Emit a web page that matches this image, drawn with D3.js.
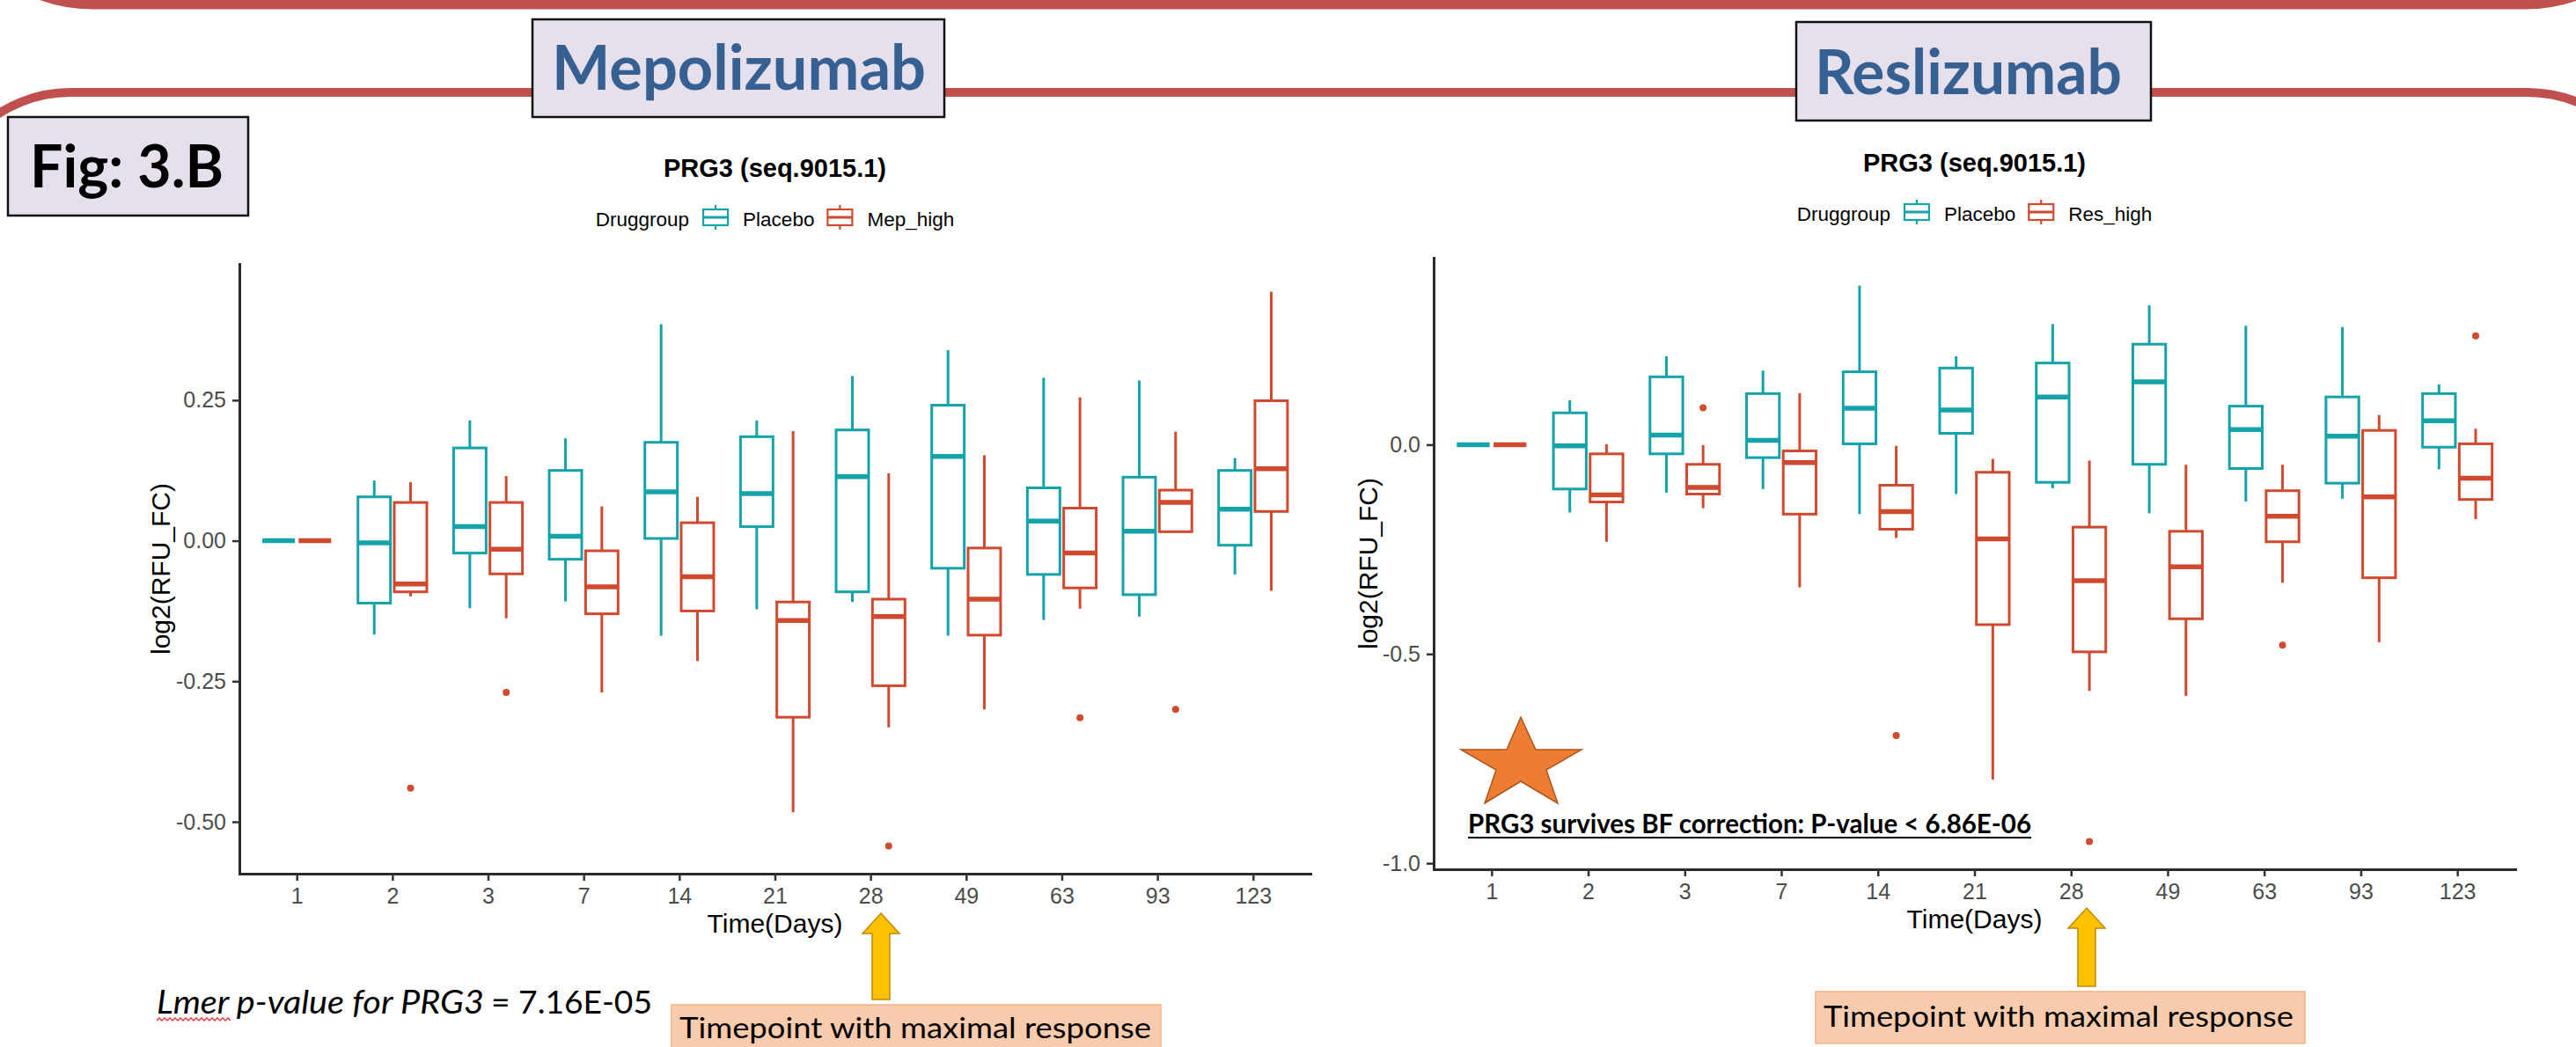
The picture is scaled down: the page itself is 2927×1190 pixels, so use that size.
<!DOCTYPE html>
<html>
<head>
<meta charset="utf-8">
<script src="https://cdn.jsdelivr.net/npm/d3@7"></script>
<style>
  body { margin: 0; background: #fff; }
  svg { display: block; }
</style>
</head>
<body>
<script>
// time points (x categories)
var days = ["1", "2", "3", "7", "14", "21", "28", "49", "63", "93", "123"];

// box stats per day: [lower whisker, Q1, median, Q3, upper whisker]
var mepPlacebo = [
  [0, 0, 0, 0, 0],
  [-0.167, -0.111, -0.004, 0.078, 0.107],
  [-0.120, -0.022, 0.025, 0.165, 0.214],
  [-0.108, -0.033, 0.008, 0.125, 0.182],
  [-0.169, 0.004, 0.087, 0.175, 0.385],
  [-0.122, 0.025, 0.084, 0.185, 0.214],
  [-0.109, -0.091, 0.114, 0.197, 0.293],
  [-0.169, -0.049, 0.150, 0.241, 0.339],
  [-0.141, -0.060, 0.035, 0.094, 0.290],
  [-0.135, -0.096, 0.017, 0.113, 0.285],
  [-0.060, -0.008, 0.056, 0.125, 0.147]
];
var mepHigh = [
  [0, 0, 0, 0, 0],
  [-0.099, -0.091, -0.077, 0.068, 0.104],
  [-0.138, -0.059, -0.015, 0.068, 0.115],
  [-0.270, -0.130, -0.082, -0.018, 0.061],
  [-0.214, -0.125, -0.064, 0.032, 0.078],
  [-0.483, -0.314, -0.142, -0.109, 0.195],
  [-0.332, -0.258, -0.135, -0.104, 0.120],
  [-0.300, -0.168, -0.104, -0.013, 0.152],
  [-0.121, -0.084, -0.022, 0.058, 0.255],
  [0.016, 0.016, 0.068, 0.090, 0.194],
  [-0.089, 0.052, 0.128, 0.249, 0.443]
];
var mepHighOutliers = [["2", -0.440], ["3", -0.270], ["28", -0.543], ["63", -0.315], ["93", -0.300]];

var resPlacebo = [
  [0, 0, 0, 0, 0],
  [-0.162, -0.106, -0.003, 0.076, 0.106],
  [-0.115, -0.022, 0.023, 0.162, 0.211],
  [-0.106, -0.031, 0.010, 0.122, 0.177],
  [-0.166, 0.002, 0.087, 0.174, 0.380],
  [-0.118, 0.027, 0.083, 0.183, 0.211],
  [-0.104, -0.090, 0.114, 0.195, 0.288],
  [-0.164, -0.047, 0.150, 0.240, 0.333],
  [-0.136, -0.057, 0.036, 0.092, 0.284],
  [-0.129, -0.092, 0.020, 0.114, 0.281],
  [-0.059, -0.006, 0.057, 0.122, 0.144]
];
var resHigh = [
  [0, 0, 0, 0, 0],
  [-0.232, -0.137, -0.120, -0.022, 0.001],
  [-0.152, -0.118, -0.102, -0.047, -0.001],
  [-0.341, -0.166, -0.043, -0.015, 0.123],
  [-0.223, -0.202, -0.160, -0.097, -0.003],
  [-0.800, -0.430, -0.225, -0.066, -0.034],
  [-0.588, -0.495, -0.325, -0.197, -0.038],
  [-0.600, -0.416, -0.292, -0.207, -0.048],
  [-0.330, -0.232, -0.171, -0.110, -0.048],
  [-0.472, -0.318, -0.125, 0.034, 0.071],
  [-0.178, -0.131, -0.080, 0.002, 0.038]
];
var resHighOutliers = [["3", 0.088], ["14", -0.695], ["28", -0.948], ["63", -0.479], ["123", 0.260]];

// y tick values and their labels
var mepYTicks = [-0.5, -0.25, 0, 0.25];
var mepYLabels = ["-0.50", "-0.25", "0.00", "0.25"];
var resYTicks = [-1, -0.5, 0];
var resYLabels = ["-1.0", "-0.5", "0.0"];

var teal = "#13A3A8",
    red = "#CF4A2F",
    gg = "'Liberation Sans', Arial, sans-serif",
    office = "Lato, 'Open Sans', sans-serif";

var svg = d3.select("body").append("svg")
    .attr("width", 2927)
    .attr("height", 1190);

// ---- slide decoration: red rounded frames
svg.append("rect")
    .attr("x", -65).attr("y", -400).attr("width", 3105).attr("height", 405)
    .attr("rx", 170).attr("ry", 170)
    .style("fill", "none").style("stroke", "#C0504D").style("stroke-width", 11);
svg.append("rect")
    .attr("x", -70).attr("y", 105).attr("width", 3092).attr("height", 1400)
    .attr("rx", 150).attr("ry", 150)
    .style("fill", "none").style("stroke", "#C0504D").style("stroke-width", 10);

// label boxes
function labelBox(x, y, w, h, text, tx, ty, tw, size, color) {
  svg.append("rect")
      .attr("x", x).attr("y", y).attr("width", w).attr("height", h)
      .style("fill", "#E6E0EC").style("stroke", "#111").style("stroke-width", 2.5);
  svg.append("text")
      .attr("x", tx).attr("y", ty)
      .attr("textLength", tw).attr("lengthAdjust", "spacingAndGlyphs")
      .style("font-family", office).style("font-weight", "bold")
      .style("font-size", size + "px").style("fill", color)
      .text(text);
}
labelBox(605, 22, 468, 111, "Mepolizumab", 627, 102, 425, 70, "#376092");
labelBox(2041, 25, 403, 112, "Reslizumab", 2062, 107, 349, 70, "#376092");
labelBox(9, 133, 273, 112, "Fig: 3.B", 34, 213, 220, 67, "#000");

// ---- one ggplot-like boxplot panel
function drawPanel(p) {
  var x = d3.scalePoint().domain(days).range([p.left, p.right]).padding(0.6);
  var step = x.step();

  var all = [];
  p.groups.forEach(function(g) {
    g.stats.forEach(function(s) { all = all.concat(s); });
    g.outliers.forEach(function(o) { all.push(o[1]); });
  });
  var lo = d3.min(all), hi = d3.max(all), pad = (hi - lo) * 0.05;
  var y = d3.scaleLinear().domain([lo - pad, hi + pad]).range([p.bottom, p.top]);

  var panel = svg.append("g");

  p.groups.forEach(function(g, gi) {
    var off = (gi === 0 ? -1 : 1) * 0.19 * step,
        w = 0.34 * step;

    var boxes = panel.selectAll(null)
        .data(g.stats)
      .enter().append("g")
        .attr("transform", function(d, i) { return "translate(" + (x(days[i]) + off) + ",0)"; })
        .style("stroke", g.color)
        .style("fill", "none");

    // whiskers
    boxes.append("line")
        .attr("y1", function(d) { return y(d[3]); })
        .attr("y2", function(d) { return y(d[4]); })
        .style("stroke-width", 3);
    boxes.append("line")
        .attr("y1", function(d) { return y(d[0]); })
        .attr("y2", function(d) { return y(d[1]); })
        .style("stroke-width", 3);
    // box
    boxes.append("rect")
        .attr("x", -w / 2)
        .attr("width", w)
        .attr("y", function(d) { return y(d[3]); })
        .attr("height", function(d) { return y(d[1]) - y(d[3]); })
        .style("fill", "#fff")
        .style("stroke-width", 3);
    // median
    boxes.append("line")
        .attr("x1", -w / 2).attr("x2", w / 2)
        .attr("y1", function(d) { return y(d[2]); })
        .attr("y2", function(d) { return y(d[2]); })
        .style("stroke-width", 5.5);

    panel.selectAll(null)
        .data(g.outliers)
      .enter().append("circle")
        .attr("cx", function(d) { return x(d[0]) + off; })
        .attr("cy", function(d) { return y(d[1]); })
        .attr("r", 4)
        .style("fill", g.color);
  });

  // axes
  var yAxis = panel.append("g")
      .attr("transform", "translate(" + p.left + ",0)")
      .call(d3.axisLeft(y)
          .tickValues(p.yTicks)
          .tickFormat(function(d, i) { return p.yLabels[i]; })
          .tickSize(8).tickPadding(7).tickSizeOuter(0));
  var xAxis = panel.append("g")
      .attr("transform", "translate(0," + p.bottom + ")")
      .call(d3.axisBottom(x).tickSize(8).tickPadding(8).tickSizeOuter(0));

  [yAxis, xAxis].forEach(function(a) {
    a.select(".domain").style("stroke", "#2b2b2b").style("stroke-width", 3).style("stroke-linecap", "square");
    a.selectAll(".tick line").style("stroke", "#333").style("stroke-width", 2.5);
    a.selectAll(".tick text")
        .style("font-family", gg).style("font-size", "25px").style("fill", "#4D4D4D");
  });

  var mid = (p.left + p.right) / 2;

  // axis titles
  panel.append("text")
      .attr("x", mid).attr("y", p.bottom + 67)
      .style("text-anchor", "middle")
      .style("font-family", gg).style("font-size", "30px")
      .text("Time(Days)");
  panel.append("text")
      .attr("transform", "translate(" + p.yTitleX + "," + ((p.top + p.bottom) / 2) + ") rotate(-90)")
      .style("text-anchor", "middle")
      .style("font-family", gg).style("font-size", "30px")
      .text("log2(RFU_FC)");

  // plot title
  panel.append("text")
      .attr("x", mid).attr("y", p.titleY)
      .style("text-anchor", "middle")
      .style("font-family", gg).style("font-size", "29px").style("font-weight", "bold")
      .text("PRG3 (seq.9015.1)");

  // legend
  var legend = panel.append("g");
  var cursor = 0;
  var lt = legend.append("text")
      .attr("x", cursor).attr("y", p.legendY)
      .style("font-family", gg).style("font-size", "22.5px")
      .text("Druggroup");
  cursor += lt.node().getComputedTextLength() + 15;
  p.groups.forEach(function(g) {
    var key = legend.append("g")
        .attr("transform", "translate(" + (cursor + 15) + "," + (p.legendY - 10) + ")")
        .style("stroke", g.color).style("fill", "#fff").style("stroke-width", 2.2);
    key.append("line").attr("y1", -14).attr("y2", 14);
    key.append("rect").attr("x", -14).attr("y", -9).attr("width", 28).attr("height", 18);
    key.append("line").attr("x1", -14).attr("x2", 14).style("stroke-width", 3);
    cursor += 30 + 16;
    var t = legend.append("text")
        .attr("x", cursor).attr("y", p.legendY)
        .style("font-family", gg).style("font-size", "22.5px")
        .text(g.name);
    cursor += t.node().getComputedTextLength() + 14;
  });
  cursor -= 14;
  legend.attr("transform", "translate(" + (mid - cursor / 2) + ",0)");
}

drawPanel({
  left: 272, right: 1489, top: 300, bottom: 993,
  titleY: 201, legendY: 257, yTitleX: 193,
  yTicks: mepYTicks, yLabels: mepYLabels,
  groups: [
    { name: "Placebo", color: teal, stats: mepPlacebo, outliers: [] },
    { name: "Mep_high", color: red, stats: mepHigh, outliers: mepHighOutliers }
  ]
});

drawPanel({
  left: 1629, right: 2858, top: 293, bottom: 988,
  titleY: 195, legendY: 251, yTitleX: 1565,
  yTicks: resYTicks, yLabels: resYLabels,
  groups: [
    { name: "Placebo", color: teal, stats: resPlacebo, outliers: [] },
    { name: "Res_high", color: red, stats: resHigh, outliers: resHighOutliers }
  ]
});

// ---- annotations
// arrows pointing at day 28
function upArrow(cx, tipY, baseY, bottomY) {
  var hw = 21, sw = 10;
  svg.append("path")
      .attr("d", "M" + cx + "," + tipY +
                 "L" + (cx + hw) + "," + baseY +
                 "L" + (cx + sw) + "," + baseY +
                 "L" + (cx + sw) + "," + bottomY +
                 "L" + (cx - sw) + "," + bottomY +
                 "L" + (cx - sw) + "," + baseY +
                 "L" + (cx - hw) + "," + baseY + "Z")
      .style("fill", "#FFC000").style("stroke", "#BC8C00").style("stroke-width", 1.5);
}
upArrow(1001, 1038, 1061, 1136);
upArrow(2371, 1032, 1055, 1121);

function peachBox(x, y, w, h, tx, ty, tw) {
  svg.append("rect")
      .attr("x", x).attr("y", y).attr("width", w).attr("height", h)
      .style("fill", "#F8CBAD").style("stroke", "#F4B183").style("stroke-width", 1.5);
  svg.append("text")
      .attr("x", tx).attr("y", ty)
      .attr("textLength", tw).attr("lengthAdjust", "spacingAndGlyphs")
      .style("font-family", office).style("font-size", "33px").style("fill", "#000")
      .text("Timepoint with maximal response");
}
peachBox(763, 1142, 556, 60, 772, 1180, 536);
peachBox(2063, 1127, 556, 59, 2072, 1167, 534);

// Lmer footnote
svg.append("text")
    .attr("x", 178).attr("y", 1152)
    .attr("textLength", 372).attr("lengthAdjust", "spacingAndGlyphs")
    .style("font-family", office).style("font-style", "italic").style("font-size", "37px")
    .text("Lmer p-value for PRG3");
svg.append("text")
    .attr("x", 558).attr("y", 1152)
    .attr("textLength", 183).attr("lengthAdjust", "spacingAndGlyphs")
    .style("font-family", office).style("font-size", "37px")
    .text("= 7.16E-05");
// spell-check squiggle under "Lmer"
var sq = "M178,1160";
for (var sx = 178; sx < 260; sx += 6) {
  sq += "L" + (sx + 3) + ",1157L" + (sx + 6) + ",1160";
}
svg.append("path").attr("d", sq)
    .style("fill", "none").style("stroke", "#E03030").style("stroke-width", 1.3);

// star and BF correction note
var star = [[1728, 815], [1745, 852], [1797, 852], [1757, 875], [1770, 913],
            [1728, 888], [1687, 913], [1700, 875], [1660, 852], [1712, 852]];
svg.append("polygon")
    .attr("points", star.map(function(p) { return p.join(","); }).join(" "))
    .style("fill", "#ED7D31").style("stroke", "#A9561F").style("stroke-width", 1.5);

svg.append("text")
    .attr("x", 1668).attr("y", 947)
    .attr("textLength", 640).attr("lengthAdjust", "spacingAndGlyphs")
    .style("font-family", office).style("font-weight", "bold").style("font-size", "30px")
    .text("PRG3 survives BF correction: P-value < 6.86E-06");
svg.append("line")
    .attr("x1", 1668).attr("x2", 2308).attr("y1", 952).attr("y2", 952)
    .style("stroke", "#000").style("stroke-width", 2);
</script>
</body>
</html>
